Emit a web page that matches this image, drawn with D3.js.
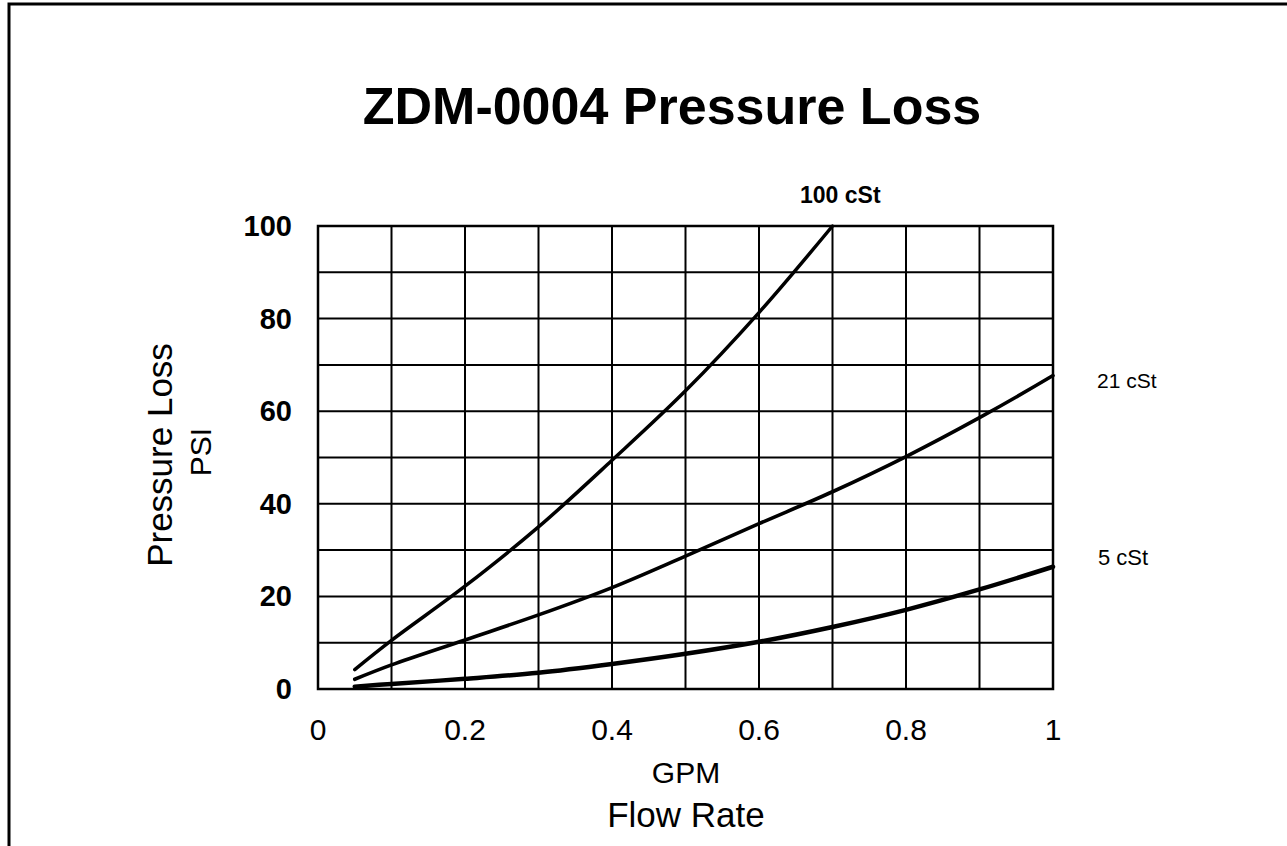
<!DOCTYPE html>
<html>
<head>
<meta charset="utf-8">
<script src="https://cdn.jsdelivr.net/npm/d3@7"></script>
<style>
  body { margin: 0; background: #fff; }
  svg { display: block; font-family: "Liberation Sans", Arial, sans-serif; }
</style>
</head>
<body>
<svg id="chart" width="1287" height="846"></svg>
<script>
// flow rate (GPM) samples
var flowRate = [0.05, 0.1, 0.2, 0.3, 0.4, 0.5, 0.6, 0.7, 0.8, 0.9, 1.0];
// pressure loss (PSI)
var loss100 = [4.2, 10.5, 22.2, 35, 49.4, 64.4, 81.3, 100];
var loss21 = [2.1, 5.2, 10.6, 16, 21.9, 28.7, 35.7, 42.6, 50.2, 58.6, 67.7];
var loss5 = [0.5, 1.1, 2.2, 3.5, 5.4, 7.6, 10.2, 13.4, 17.1, 21.5, 26.4];
var seriesNames = ["100 cSt", "21 cSt", "5 cSt"];
var xTicks = [0, 0.2, 0.4, 0.6, 0.8, 1];
var yTicks = [0, 20, 40, 60, 80, 100];

var svg = d3.select("#chart");

// outer frame (top + left edges visible)
svg.append("path")
  .attr("d", "M9,846 L9,4 L1287,4")
  .attr("fill", "none").attr("stroke", "#000").attr("stroke-width", 3);

var x = d3.scaleLinear().domain([0, 1]).range([318, 1053]);
var y = d3.scaleLinear().domain([0, 100]).range([689, 226]);

var g = svg.append("g");

// grid
g.selectAll(".vg").data(d3.range(1, 10).map(function(i) { return i / 10; }))
  .enter().append("line")
  .attr("x1", function(d) { return x(d); }).attr("x2", function(d) { return x(d); })
  .attr("y1", y(0)).attr("y2", y(100))
  .attr("stroke", "#000").attr("stroke-width", 2);
g.selectAll(".hg").data(d3.range(10, 100, 10))
  .enter().append("line")
  .attr("y1", function(d) { return y(d); }).attr("y2", function(d) { return y(d); })
  .attr("x1", x(0)).attr("x2", x(1))
  .attr("stroke", "#000").attr("stroke-width", 2);

g.append("rect")
  .attr("x", x(0)).attr("y", y(100))
  .attr("width", x(1) - x(0)).attr("height", y(0) - y(100))
  .attr("fill", "none").attr("stroke", "#000").attr("stroke-width", 2.5);

// curves
var line = d3.line()
  .x(function(d) { return x(d[0]); })
  .y(function(d) { return y(d[1]); })
  .curve(d3.curveCatmullRom);

var series = [
  { name: seriesNames[0], values: loss100, w: 3.5 },
  { name: seriesNames[1], values: loss21, w: 3.6 },
  { name: seriesNames[2], values: loss5, w: 4.5 }
];
series.forEach(function(s) {
  var pts = s.values.map(function(v, i) { return [flowRate[i], v]; });
  g.append("path").datum(pts)
    .attr("d", line)
    .attr("fill", "none").attr("stroke", "#000")
    .attr("stroke-width", s.w).attr("stroke-linecap", "round");
});

// tick labels
g.selectAll(".xt").data(xTicks).enter().append("text")
  .attr("x", function(d) { return x(d); }).attr("y", 740)
  .attr("text-anchor", "middle")
  .attr("font-size", 30)
  .text(function(d) { return d3.format("")(d); });

g.selectAll(".yt").data(yTicks).enter().append("text")
  .attr("x", 292).attr("y", function(d) { return y(d) + 10; })
  .attr("text-anchor", "end")
  .attr("font-size", 29).attr("font-weight", "bold")
  .text(function(d) { return d; });

// titles
svg.append("text")
  .attr("x", 672).attr("y", 124)
  .attr("text-anchor", "middle")
  .attr("font-size", 52).attr("font-weight", "bold")
  .text("ZDM-0004 Pressure Loss");

svg.append("text").attr("x", 686).attr("y", 783)
  .attr("text-anchor", "middle").attr("font-size", 30).text("GPM");
svg.append("text").attr("x", 686).attr("y", 827)
  .attr("text-anchor", "middle").attr("font-size", 35).text("Flow Rate");

svg.append("text")
  .attr("transform", "translate(172,455) rotate(-90)")
  .attr("text-anchor", "middle").attr("font-size", 35).text("Pressure Loss");
svg.append("text")
  .attr("transform", "translate(211,452) rotate(-90)")
  .attr("text-anchor", "middle").attr("font-size", 30).text("PSI");

// series labels
svg.append("text").attr("x", 800).attr("y", 203)
  .attr("font-size", 23).attr("font-weight", "bold").text(seriesNames[0]);
svg.append("text").attr("x", 1097).attr("y", 388)
  .attr("font-size", 21).text(seriesNames[1]);
svg.append("text").attr("x", 1098).attr("y", 565)
  .attr("font-size", 22).text(seriesNames[2]);
</script>
</body>
</html>
